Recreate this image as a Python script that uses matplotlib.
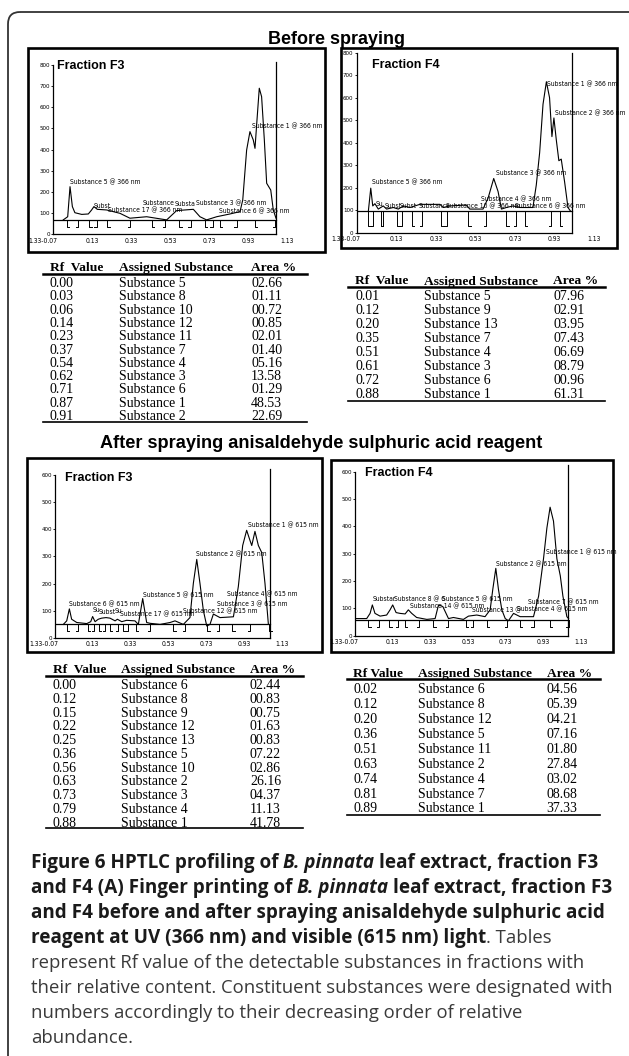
import matplotlib
matplotlib.use("Agg")
import matplotlib.pyplot as plt
from matplotlib.patches import Rectangle, FancyBboxPatch
from matplotlib import font_manager

W, H = 629, 1056

# ---- table values ----
f3_before_rf = ["0.00", "0.03", "0.06", "0.14", "0.23", "0.37", "0.54", "0.62", "0.71", "0.87", "0.91"]
f3_before_sub = ["Substance 5", "Substance 8", "Substance 10", "Substance 12", "Substance 11", "Substance 7",
                 "Substance 4", "Substance 3", "Substance 6", "Substance 1", "Substance 2"]
f3_before_area = ["02.66", "01.11", "00.72", "00.85", "02.01", "01.40", "05.16", "13.58", "01.29", "48.53", "22.69"]

f4_before_rf = ["0.01", "0.12", "0.20", "0.35", "0.51", "0.61", "0.72", "0.88"]
f4_before_sub = ["Substance 5", "Substance 9", "Substance 13", "Substance 7", "Substance 4", "Substance 3",
                 "Substance 6", "Substance 1"]
f4_before_area = ["07.96", "02.91", "03.95", "07.43", "06.69", "08.79", "00.96", "61.31"]

f3_after_rf = ["0.00", "0.12", "0.15", "0.22", "0.25", "0.36", "0.56", "0.63", "0.73", "0.79", "0.88"]
f3_after_sub = ["Substance 6", "Substance 8", "Substance 9", "Substance 12", "Substance 13", "Substance 5",
                "Substance 10", "Substance 2", "Substance 3", "Substance 4", "Substance 1"]
f3_after_area = ["02.44", "00.83", "00.75", "01.63", "00.83", "07.22", "02.86", "26.16", "04.37", "11.13", "41.78"]

f4_after_rf = ["0.02", "0.12", "0.20", "0.36", "0.51", "0.63", "0.74", "0.81", "0.89"]
f4_after_sub = ["Substance 6", "Substance 8", "Substance 12", "Substance 5", "Substance 11", "Substance 2",
                "Substance 4", "Substance 7", "Substance 1"]
f4_after_area = ["04.56", "05.39", "04.21", "07.16", "01.80", "27.84", "03.02", "08.68", "37.33"]

# ---- densitogram traces (Rf, AU) ----
f3_before_x = [-0.019, 0.004, 0.016, 0.028, 0.041, 0.076, 0.110, 0.127, 0.139, 0.156, 0.204, 0.273, 0.324,
               0.41, 0.513, 0.564, 0.65, 0.684, 0.718, 0.77, 0.838, 0.89, 0.904, 0.924, 0.941, 0.958, 0.967,
               0.976, 0.989, 1.001, 1.015, 1.027, 1.048, 1.061, 1.075]
f3_before_y = [68, 83, 225, 131, 102, 94, 96, 115, 131, 118, 115, 99, 76,
               83, 68, 112, 118, 83, 68, 83, 96, 107, 162, 398, 485, 446, 406,
               524, 690, 650, 446, 241, 209, 115, 76]

f4_before_x = [-0.011, 0.001, 0.011, 0.022, 0.039, 0.064, 0.081, 0.115, 0.14, 0.165, 0.199, 0.249, 0.35,
               0.367, 0.4, 0.484, 0.501, 0.568, 0.594, 0.622, 0.644, 0.661, 0.686, 0.72, 0.753, 0.82, 0.837,
               0.854, 0.871, 0.888, 0.904, 0.916, 0.926, 0.938, 0.951, 0.963, 0.98, 0.997, 1.009]
f4_before_y = [97, 198, 119, 129, 105, 119, 105, 112, 105, 119, 112, 126, 126,
               112, 119, 123, 105, 105, 155, 241, 183, 105, 112, 119, 112, 112, 212,
               356, 571, 671, 600, 427, 510, 413, 320, 327, 226, 112, 97]

f3_after_x = [-0.026, -0.008, 0.006, 0.018, 0.045, 0.098, 0.119, 0.129, 0.142, 0.159, 0.177, 0.2, 0.221,
              0.248, 0.26, 0.283, 0.309, 0.353, 0.371, 0.394, 0.415, 0.433, 0.486, 0.539, 0.565, 0.609,
              0.644, 0.662, 0.68, 0.697, 0.715, 0.733, 0.75, 0.768, 0.803, 0.874, 0.9, 0.923, 0.944, 0.962,
              0.971, 0.988, 1.006, 1.024, 1.041, 1.059]
f3_after_y = [50, 63, 107, 69, 57, 53, 60, 79, 60, 69, 73, 75, 73,
              63, 69, 60, 65, 63, 50, 145, 57, 54, 50, 57, 63, 50,
              75, 201, 289, 201, 101, 44, 50, 88, 75, 78, 189, 340, 396, 358,
              340, 392, 340, 314, 201, 50]

f4_after_x = [-0.065, -0.008, 0.01, 0.022, 0.036, 0.063, 0.098, 0.116, 0.13, 0.148, 0.169, 0.196, 0.213,
              0.231, 0.257, 0.311, 0.355, 0.373, 0.396, 0.426, 0.452, 0.505, 0.532, 0.576, 0.62, 0.647,
              0.661, 0.677, 0.691, 0.709, 0.727, 0.744, 0.771, 0.806, 0.877, 0.904, 0.93, 0.948, 0.965,
              0.983, 1.001, 1.019, 1.033, 1.054, 1.063]
f4_after_y = [62, 62, 81, 112, 81, 71, 75, 94, 112, 84, 81, 79, 94,
              81, 66, 59, 62, 112, 106, 62, 66, 59, 71, 75, 69, 94,
              169, 246, 169, 94, 62, 54, 81, 69, 69, 144, 281, 394, 470,
              419, 281, 219, 144, 69, 62]

# peak window marks
f3_before_marks = [-0.001, 0.059, 0.115, 0.153, 0.208, 0.324, 0.436, 0.504, 0.578, 0.636, 0.710, 0.749,
                   0.787, 0.873, 0.967, 1.07]
f4_before_marks = [-0.011, 0.014, 0.051, 0.064, 0.135, 0.157, 0.207, 0.261, 0.358, 0.384, 0.493, 0.585,
                   0.686, 0.736, 0.778, 0.913, 0.955]
f3_after_marks = [-0.008, 0.053, 0.103, 0.136, 0.163, 0.195, 0.221, 0.265, 0.288, 0.318, 0.359, 0.433,
                  0.556, 0.618, 0.736, 0.8, 0.868, 0.962, 1.064]
f4_after_marks = [0.001, 0.059, 0.112, 0.16, 0.196, 0.272, 0.346, 0.426, 0.518, 0.558, 0.629, 0.739, 0.806,
                  0.877, 0.962, 1.063]

# peak labels
f3_before_labels = ["Substance 5 @ 366 nm", "Subst", "Substance 17 @ 366 nm", "Substance", "Substa",
                    "Substance 3 @ 366 nm", "Substance 6 @ 366 nm", "Substance 1 @ 366 nm"]
f3_before_lx = [0.016, 0.136, 0.213, 0.389, 0.556, 0.664, 0.782, 0.95]
f3_before_ly = [249, 135, 115, 150, 143, 146, 112, 512]

f4_before_labels = ["Substance 5 @ 366 nm", "Su", "Subst", "Subst", "Substance", "Substance 10 @ 366 nm",
                    "Substance 4 @ 366 nm", "Substance 3 @ 366 nm", "Substance 6 @ 366 nm",
                    "Substance 1 @ 366 nm", "Substance 2 @ 366 nm"]
f4_before_lx = [0.006, 0.027, 0.069, 0.148, 0.244, 0.38, 0.56, 0.636, 0.728, 0.891, 0.93]
f4_before_ly = [224, 129, 119, 119, 119, 119, 148, 267, 119, 660, 530]

f3_after_labels = ["Substance 6 @ 615 nm", "Su", "Subst", "Su", "Substance 17 @ 615 nm", "Substance 5 @ 615 nm",
                   "Substance 12 @ 615 nm", "Substance 2 @ 615 nm", "Substance 3 @ 615 nm",
                   "Substance 4 @ 615 nm", "Substance 1 @ 615 nm"]
f3_after_lx = [0.006, 0.13, 0.159, 0.244, 0.274, 0.397, 0.606, 0.674, 0.789, 0.842, 0.95]
f3_after_ly = [125, 103, 94, 100, 88, 157, 100, 308, 126, 163, 415]

f4_after_labels = ["Substar", "Substance 8 @ 6", "Substance 14 @ 615 nm", "Substance 5 @ 615 nm",
                   "Substance 13 @", "Substance 4 @ 615 nm", "Substance 7 @ 615 nm",
                   "Substance 2 @ 615 nm", "Substance 1 @ 615 nm"]
f4_after_lx = [0.024, 0.137, 0.222, 0.39, 0.55, 0.788, 0.85, 0.677, 0.942]
f4_after_ly = [134, 134, 109, 134, 94, 97, 122, 262, 306]

rf_ticks = [-0.07, 0.13, 0.33, 0.53, 0.73, 0.93, 1.13]

# narrow font for the scanned labels if one is installed
SMALL = font_manager.FontProperties(family="Liberation Sans", size=4.6)
try:
    font_manager.findfont("Liberation Sans Narrow", fallback_to_default=False)
    SMALL = font_manager.FontProperties(family="Liberation Sans Narrow", size=5.4)
except ValueError:
    p = font_manager.findfont(font_manager.FontProperties(family="DejaVu Sans", stretch="condensed"))
    if "Condensed" in p:
        SMALL = font_manager.FontProperties(fname=p, size=4.9)

fig = plt.figure(figsize=(W / 100, H / 100), dpi=100)
bg = fig.add_axes([0, 0, 1, 1])
bg.set_xlim(0, W)
bg.set_ylim(H, 0)
bg.axis("off")

# outer rounded frame
bg.add_patch(FancyBboxPatch((8, 12), 700, 1100, boxstyle="round,pad=0,rounding_size=12",
                            fill=False, lw=1.3, ec="#333333"))

bg.text(336, 39, "Before spraying", ha="center", va="center", fontsize=13, fontweight="bold",
        family="Liberation Sans")
bg.text(321, 443, "After spraying anisaldehyde sulphuric acid reagent", ha="center", va="center",
        fontsize=13.1, fontweight="bold", family="Liberation Sans")


def chart(box, ox, oy, px_x, px_y, xr, rtop, ltop, ymax, cx, cy, base, low, marks,
          labels, lx, ly, frac, frac_xy):
    x0, y0, x1, y1 = box
    rect = Rectangle((x0, y0), x1 - x0, y1 - y0, fill=False, lw=1.9, ec="black")
    bg.add_patch(rect)
    xmax = 1.17
    right = ox + (xmax + 0.07) / 0.2 * px_x
    top = oy - ymax / 100 * px_y
    ax = fig.add_axes([ox / W, 1 - oy / H, (right - ox) / W, (oy - top) / H])
    ax.set_xlim(-0.07, xmax)
    ax.set_ylim(0, ymax)
    ax.patch.set_visible(False)
    ax.spines["top"].set_visible(False)
    ax.spines["left"].set_bounds(0, ltop)
    ax.spines["bottom"].set_bounds(-0.07, xr)
    ax.spines["right"].set_position(("data", xr))
    ax.spines["right"].set_bounds(0, rtop)
    for s in ax.spines.values():
        s.set_linewidth(0.9)
    ax.yaxis.set_ticks_position("left")
    ax.xaxis.set_ticks_position("bottom")
    ax.set_yticks(list(range(0, ltop + 1, 100)))
    ax.set_xticks(rf_ticks[1:])
    ax.set_xticklabels(["%.2f" % t for t in rf_ticks[1:]])
    ax.tick_params(axis="x", length=0, pad=2.5)
    ax.tick_params(axis="y", length=1.5, width=0.6, pad=0.8)
    for lab in ax.get_xticklabels():
        lab.set_fontproperties(SMALL)
    for lab in ax.get_yticklabels():
        lab.set_fontproperties(SMALL)
        lab.set_fontsize(SMALL.get_size() * 0.9)
    ax.annotate("1.33-0.07", xy=(-0.07, 0), xytext=(2.7, -2.5), textcoords="offset points",
                ha="right", va="top", fontproperties=SMALL, annotation_clip=False)

    # baseline and trace
    ax.plot([-0.07, xr], [base, base], color="black", lw=0.9)
    ax.plot(cx, cy, color="black", lw=0.8)
    for i, m in enumerate(marks):
        d = 1 if i % 2 == 0 else -1
        ax.plot([m, m, m + d * 0.012], [base, low, low], color="black", lw=0.7)
    for s, x, y in zip(labels, lx, ly):
        t = ax.text(x, y, s, fontproperties=SMALL, va="center", ha="left")
        t.set_clip_path(rect)
    bg.text(frac_xy[0], frac_xy[1], frac, fontsize=9, fontweight="bold", family="Liberation Sans",
            va="center", ha="left")


chart((28, 48, 325, 252), 53.3, 234.3, 38.9, 21.17, 1.075, 815, 800, 830,
      f3_before_x, f3_before_y, 68, 36, f3_before_marks,
      f3_before_labels, f3_before_lx, f3_before_ly, "Fraction F3", (57, 66))
chart((341, 48, 617, 248), 356.7, 232.7, 39.6, 22.5, 1.016, 800, 800, 830,
      f4_before_x, f4_before_y, 97, 29, f4_before_marks,
      f4_before_labels, f4_before_lx, f4_before_ly, "Fraction F4", (372, 65))
chart((27, 458, 322, 652), 55, 638, 37.8, 27.2, 1.068, 620, 600, 640,
      f3_after_x, f3_after_y, 50, 24, f3_after_marks,
      f3_after_labels, f3_after_lx, f3_after_ly, "Fraction F3", (65, 478))
chart((331, 460, 613, 652), 355, 635.5, 37.7, 27.3, 1.062, 625, 600, 640,
      f4_after_x, f4_after_y, 55, 30, f4_after_marks,
      f4_after_labels, f4_after_lx, f4_after_ly, "Fraction F4", (365, 473))


def table(rf, sub, area, cols, head_y, line_y, row0, step, bottom_y, x0, x1, head_rf):
    for c, s in zip(cols, [head_rf, "Assigned Substance", "Area %"]):
        bg.text(c, head_y, s, fontsize=9.7, fontweight="bold", family="Liberation Serif",
                va="center_baseline", ha="left")
    bg.plot([x0, x1], [line_y, line_y], color="black", lw=1.8)
    for i in range(len(rf)):
        y = row0 + i * step
        for c, s in zip(cols, [rf[i], sub[i], area[i]]):
            bg.text(c, y, s, fontsize=10, family="Liberation Serif", va="center_baseline", ha="left")
    bg.plot([x0, x1], [bottom_y, bottom_y], color="black", lw=1.2)


table(f3_before_rf, f3_before_sub, f3_before_area, (50, 119, 251), 266.7, 274, 282, 13.3, 422,
      43, 307, "Rf  Value")
table(f4_before_rf, f4_before_sub, f4_before_area, (355, 424, 553), 280, 287, 295, 13.95, 400.7,
      348, 605, "Rf  Value")
table(f3_after_rf, f3_after_sub, f3_after_area, (52.7, 121, 250), 668.3, 676, 684, 13.77, 828.3,
      46, 303, "Rf  Value")
table(f4_after_rf, f4_after_sub, f4_after_area, (353, 418, 546.7), 672.7, 679.3, 688.3, 14.9, 815,
      347, 600, "Rf Value")

# ---- caption, with mixed weights on a line ----
B, BI, R = ("bold", "normal", "#1a1a1a"), ("bold", "italic", "#1a1a1a"), ("normal", "normal", "#3a3a3a")
caption = [
    [("Figure 6 HPTLC profiling of", B, 0), ("B. pinnata", BI, 1), ("leaf extract, fraction F3", B, 1)],
    [("and F4 (A) Finger printing of", B, 0), ("B. pinnata", BI, 1), ("leaf extract, fraction F3", B, 1)],
    [("and F4 before and after spraying anisaldehyde sulphuric acid", B, 0)],
    [("reagent at UV (366 nm) and visible (615 nm) light", B, 0), (". Tables", R, 0)],
    [("represent Rf value of the detectable substances in fractions with", R, 0)],
    [("their relative content. Constituent substances were designated with", R, 0)],
    [("numbers accordingly to their decreasing order of relative", R, 0)],
    [("abundance.", R, 0)],
]
renderer = fig.canvas.get_renderer()
CAP_FONT = "Open Sans"


def width_of(s, st, size):
    t = bg.text(0, 0, s, fontsize=size, fontweight=st[0], fontstyle=st[1], family=CAP_FONT)
    w = t.get_window_extent(renderer).width
    t.remove()
    return w


def line_width(line, sizes):
    w = 0
    for s, st, sp in line:
        size = sizes[st[0]]
        if sp:
            w += width_of("x x", st, size) - width_of("xx", st, size)
        w += width_of(s, st, size)
    return w


# fit the bold run to the widest bold line and the regular run to the widest regular line
sizes = {"bold": 10, "normal": 10}
sizes["bold"] = 10 * 582 / max(line_width(caption[k], sizes) for k in range(3))
sizes["normal"] = 10 * 580 / max(line_width(caption[k], sizes) for k in range(4, 8))

for k, line in enumerate(caption):
    y = 868 + k * 25.0
    x = 31
    for s, st, sp in line:
        size = sizes[st[0]]
        if sp:
            x += width_of("x x", st, size) - width_of("xx", st, size)
        t = bg.text(x, y, s, fontsize=size, fontweight=st[0], fontstyle=st[1], color=st[2],
                    family=CAP_FONT, va="baseline", ha="left")
        x += t.get_window_extent(renderer).width

fig.savefig("out.png", dpi=100)
